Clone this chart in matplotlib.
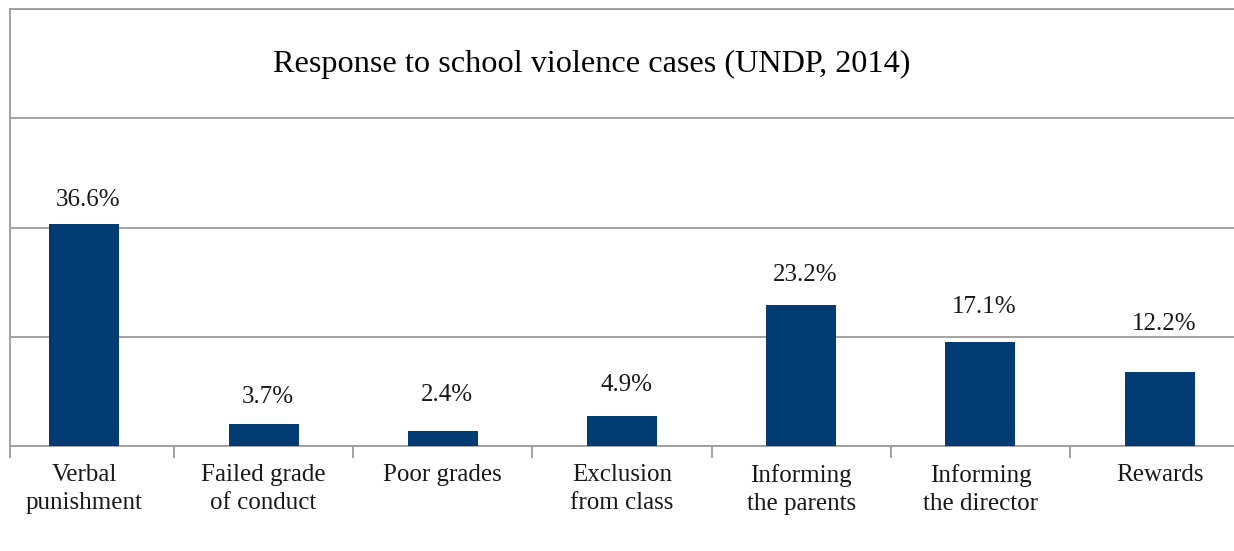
import numpy as np
import matplotlib.pyplot as plt

categories = ["Verbal\npunishment", "Failed grade\nof conduct", "Poor grades",
              "Exclusion\nfrom class", "Informing\nthe parents", "Informing\nthe director",
              "Rewards"]
values = [36.6, 3.7, 2.4, 4.9, 23.2, 17.1, 12.2]
labels = ["36.6%", "3.7%", "2.4%", "4.9%", "23.2%", "17.1%", "12.2%"]
# gap (px) between bar top and its value label, as laid out in the original
label_gap = [18, 21, 30, 25, 24, 29, 42]

bar_color = '#003b71'
grid_color = '#9c9c9c'
text_color = '#1a1718'
serif = ['Liberation Serif', 'DejaVu Serif']

fig = plt.figure(figsize=(12.34, 5.51), dpi=100)
ax = fig.add_axes([10/1234, 105/551, 1224/1234, 437/551])

x = np.arange(len(values))
ax.bar(x, values, width=0.39, color=bar_color, zorder=3)

ax.set_xlim(-0.415, 6.415)
ax.set_ylim(0, 72)

for xi, v, lab, g in zip(x, values, labels, label_gap):
    ax.annotate(lab, (xi, v), xytext=(3, g*0.72), textcoords='offset points',
                ha='center', va='baseline', fontsize=18, family=serif,
                color=text_color)

ax.set_yticks([0, 18, 36, 54, 72])
ax.set_yticklabels([])
ax.tick_params(axis='y', length=0)
ax.yaxis.grid(True, color=grid_color, linewidth=1.3, zorder=0)

ax.set_xticks(x)
ax.set_xticklabels(categories, fontsize=18, family=serif, color=text_color,
                   linespacing=1.35)
ax.tick_params(axis='x', which='major', length=0, pad=13)
ax.set_xticks([-0.415] + list(np.arange(0.5, 6, 1)), minor=True)
ax.tick_params(axis='x', which='minor', length=8.6, width=1.3, color=grid_color)

ax.spines['right'].set_visible(False)
for s in ['left', 'bottom', 'top']:
    ax.spines[s].set_color(grid_color)
    ax.spines[s].set_linewidth(1.3)

fig.text(592/1234, 1 - 64/551, "Response to school violence cases (UNDP, 2014)",
         ha='center', va='center', fontsize=23.2, family=serif, color='black')

fig.savefig('out.png', dpi=100)
